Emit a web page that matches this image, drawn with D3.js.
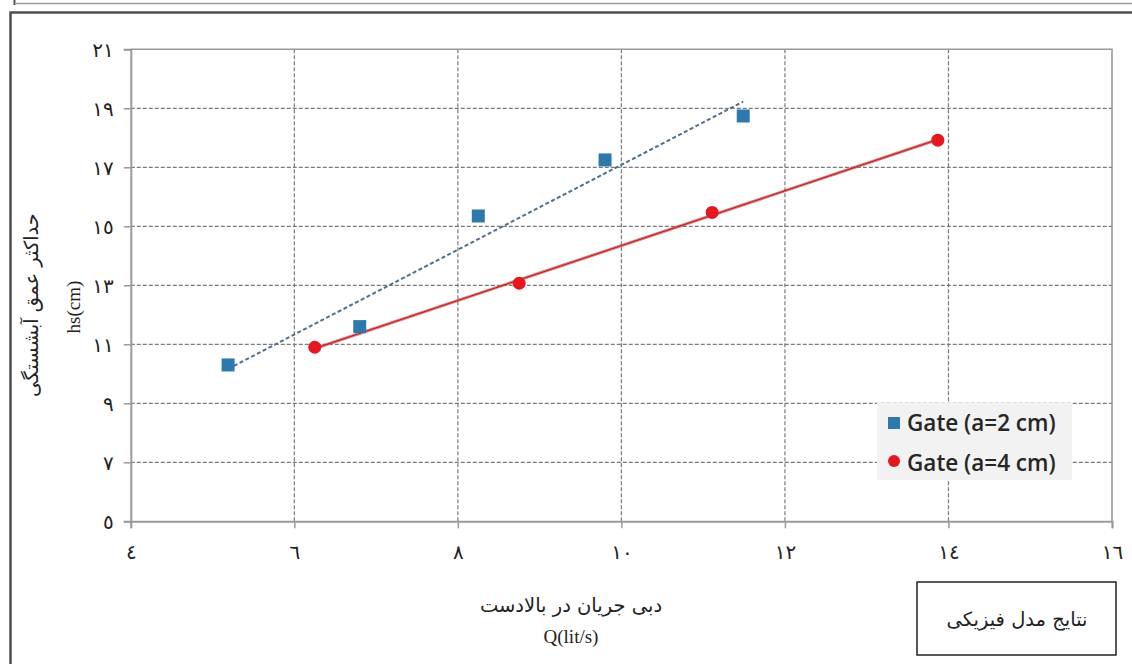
<!DOCTYPE html>
<html lang="fa">
<head>
<meta charset="UTF-8">
<title>hs vs Q</title>
<script src="https://d3js.org/d3.v7.min.js"></script>
<style>
    body { margin: 0; background: #fff; }
    .tick-label { font-family: "DejaVu Sans", serif; font-size: 20px; fill: #222; }
    .axis-title { font-family: "Liberation Serif", "DejaVu Sans", serif; font-size: 19px; fill: #222; }
    .fa-title { font-family: "DejaVu Sans", serif; font-size: 19.5px; fill: #222; }
    .legend-text { font-family: "Open Sans", sans-serif; font-weight: 600; font-size: 22.5px; fill: #262626; }
</style>
</head>
<body>
<script>
    var w = 1132;
    var h = 664;

    // Gate a=2 cm (blue squares)
    var gate2Q = [5.19, 6.80, 8.25, 9.80, 11.49];
    var gate2Hs = [10.30, 11.60, 15.35, 17.25, 18.74];
    // Gate a=4 cm (red circles)
    var gate4Q = [6.25, 8.75, 11.11, 13.87];
    var gate4Hs = [10.90, 13.07, 15.47, 17.92];

    var xTicks = [4, 6, 8, 10, 12, 14, 16];
    var yTicks = [5, 7, 9, 11, 13, 15, 17, 19, 21];
    var legendLabels = ["Gate (a=2 cm)", "Gate (a=4 cm)"];

    var margin = { left: 130.8, right: 1112, top: 49.3, bottom: 521.3 };

    function faDigits(n) {
        return String(n).replace(/[0-9]/g, function (c) { return "٠١٢٣٤٥٦٧٨٩"[+c]; });
    }

    // least squares fit, same as Excel linear trendline
    function fit(xs, ys) {
        var mx = d3.mean(xs), my = d3.mean(ys);
        var sxy = d3.sum(xs, function (x, i) { return (x - mx) * (ys[i] - my); });
        var sxx = d3.sum(xs, function (x) { return (x - mx) * (x - mx); });
        var b = sxy / sxx;
        var lo = d3.min(xs), hi = d3.max(xs);
        return [[lo, my + b * (lo - mx)], [hi, my + b * (hi - mx)]];
    }

    var svg = d3.select("body").append("svg")
        .attr("width", w)
        .attr("height", h);

    // outer frame
    svg.append("line").attr("x1", 16).attr("x2", w).attr("y1", 3.5).attr("y2", 3.5)
        .attr("stroke", "#9a9a9a").attr("stroke-width", 1.5);
    svg.append("line").attr("x1", 14.5).attr("x2", 14.5).attr("y1", 0).attr("y2", 5)
        .attr("stroke", "#555").attr("stroke-width", 2);
    svg.append("path")
        .attr("d", "M10.5," + h + "V12.5H" + (w + 2))
        .attr("fill", "none")
        .attr("stroke", "#4d4d4d")
        .attr("stroke-width", 2.5);

    var x = d3.scaleLinear().domain([4, 16]).range([margin.left, margin.right]);
    var y = d3.scaleLinear().domain([5, 21]).range([margin.bottom, margin.top]);

    // grid
    svg.append("g").selectAll("line").data(xTicks.slice(1, -1)).enter().append("line")
        .attr("x1", function (d) { return x(d); }).attr("x2", function (d) { return x(d); })
        .attr("y1", margin.top).attr("y2", margin.bottom)
        .attr("stroke", "#7a7a7a").attr("stroke-width", 1.2).attr("stroke-dasharray", "4,2");
    svg.append("g").selectAll("line").data(yTicks.slice(1, -1)).enter().append("line")
        .attr("x1", margin.left).attr("x2", margin.right)
        .attr("y1", function (d) { return y(d); }).attr("y2", function (d) { return y(d); })
        .attr("stroke", "#7a7a7a").attr("stroke-width", 1.2).attr("stroke-dasharray", "4,2");

    // plot border (top/right)
    svg.append("path")
        .attr("d", "M" + margin.left + "," + margin.top + "H" + margin.right + "V" + margin.bottom)
        .attr("fill", "none").attr("stroke", "#999").attr("stroke-width", 1.6);

    // axes
    var xAxis = d3.axisBottom(x).tickValues(xTicks).tickSize(7).tickFormat(faDigits);
    var yAxis = d3.axisLeft(y).tickValues(yTicks).tickSize(7).tickFormat(faDigits);

    var gx = svg.append("g").attr("transform", "translate(0," + margin.bottom + ")").call(xAxis);
    var gy = svg.append("g").attr("transform", "translate(" + margin.left + ",0)").call(yAxis);
    [gx, gy].forEach(function (g) {
        g.attr("font-size", null).attr("font-family", null);
        g.select(".domain").attr("stroke", "#9a9a9a").attr("stroke-width", 2);
        g.selectAll(".tick line").attr("stroke", "#9a9a9a").attr("stroke-width", 1.5);
        g.selectAll(".tick text").attr("class", "tick-label").attr("fill", null);
    });
    gx.selectAll(".tick text").attr("dy", null).attr("y", 38);
    gy.selectAll(".tick text").attr("x", -17).attr("dy", "0.35em");

    // trendlines
    var line = d3.line().x(function (d) { return x(d[0]); }).y(function (d) { return y(d[1]); });
    var blueFit = fit(gate2Q, gate2Hs);
    var redFit = fit(gate4Q, gate4Hs);

    svg.append("path").attr("d", line(blueFit))
        .attr("fill", "none").attr("stroke", "#4f6e8c").attr("stroke-width", 2)
        .attr("stroke-dasharray", "4,2.5");
    svg.append("path").attr("d", line(redFit))
        .attr("fill", "none").attr("stroke", "#f04040").attr("stroke-width", 3).attr("stroke-opacity", 0.75);
    svg.append("path").attr("d", line(redFit))
        .attr("fill", "none").attr("stroke", "#8c3030").attr("stroke-width", 1);

    // markers
    var sq = 13;
    svg.append("g").selectAll("rect").data(gate2Q).enter().append("rect")
        .attr("x", function (d) { return x(d) - sq / 2; })
        .attr("y", function (d, i) { return y(gate2Hs[i]) - sq / 2; })
        .attr("width", sq).attr("height", sq)
        .attr("fill", "#2f78ad");
    svg.append("g").selectAll("circle").data(gate4Q).enter().append("circle")
        .attr("cx", function (d) { return x(d); })
        .attr("cy", function (d, i) { return y(gate4Hs[i]); })
        .attr("r", 6.5)
        .attr("fill", "#e3191f");

    // legend
    var lg = svg.append("g").attr("transform", "translate(877,403)");
    lg.append("rect").attr("width", 195).attr("height", 77).attr("fill", "#f2f2f2");
    lg.append("rect").attr("x", 11).attr("y", 14).attr("width", 12).attr("height", 12).attr("fill", "#2f78ad");
    lg.append("circle").attr("cx", 17).attr("cy", 58).attr("r", 6).attr("fill", "#e3191f");
    lg.selectAll("text").data(legendLabels).enter().append("text")
        .attr("class", "legend-text")
        .attr("x", 30)
        .attr("y", function (d, i) { return 28 + i * 40; })
        .text(function (d) { return d; });

    // axis titles
    svg.append("text").attr("class", "fa-title")
        .attr("x", 571).attr("y", 612).attr("text-anchor", "middle")
        .text("دبی جریان در بالادست");
    svg.append("text").attr("class", "axis-title")
        .attr("x", 571).attr("y", 643).attr("text-anchor", "middle")
        .text("Q(lit/s)");

    svg.append("text").attr("class", "fa-title")
        .attr("transform", "translate(38,305) rotate(-90)")
        .attr("text-anchor", "middle")
        .text("حداکثر عمق آبشستگی");
    svg.append("text").attr("class", "axis-title")
        .attr("transform", "translate(80,307) rotate(-90)")
        .attr("text-anchor", "middle")
        .text("hs(cm)");

    // note box
    svg.append("rect").attr("x", 917).attr("y", 582).attr("width", 199).attr("height", 73)
        .attr("fill", "#fff").attr("stroke", "#222").attr("stroke-width", 1.5);
    svg.append("text").attr("class", "fa-title")
        .attr("x", 1017).attr("y", 626).attr("text-anchor", "middle")
        .text("نتایج مدل فیزیکی");
</script>
</body>
</html>
